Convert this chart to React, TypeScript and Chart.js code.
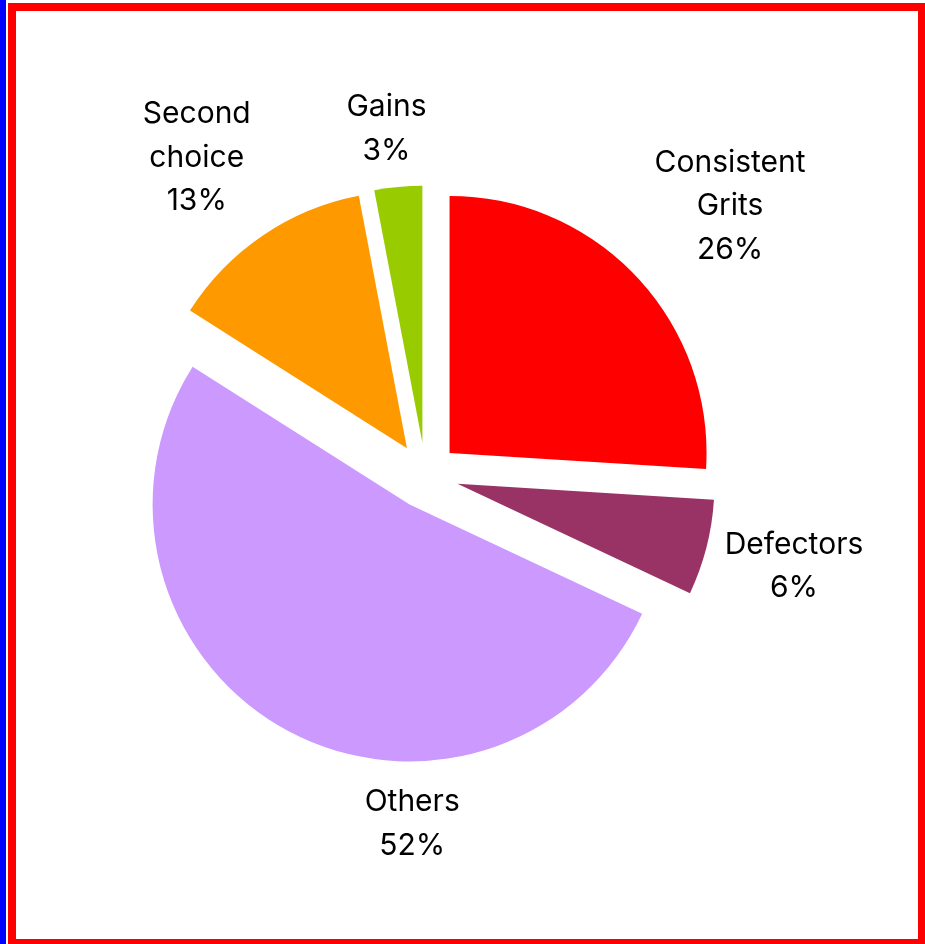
import React, { useEffect, useRef } from "react";
import { Chart, registerables } from "chart.js";

Chart.register(...registerables);

// ---- data ----
const categories = ["Consistent Grits", "Defectors", "Others", "Second choice", "Gains"];
const labelLines = [["Consistent", "Grits"], ["Defectors"], ["Others"], ["Second", "choice"], ["Gains"]];
const shares = [26, 6, 52, 13, 3];
const colors = ["#FF0000", "#993366", "#CC99FF", "#FF9900", "#99CC00"];

// ---- label layout (polar, relative to pie centre: degrees clockwise from top, radius multiples) ----
const labelAngles = [48.35, 103.6, 182.2, 324.4, 353.6];
const labelDistances = [1.586, 1.475, 1.35, 1.529, 1.363];

const EXPLODE = 33;
const FONT = "30px Inter";
const LINE_H = 43.5;
const CAP = 21.5;

const explodedPie = {
  id: "explodedPie",
  beforeDatasetDraw(chart: any, args: any) {
    const ctx = chart.ctx;
    const meta = args.meta;
    ctx.save();
    meta.data.forEach((arc: any) => {
      const { x, y, startAngle, endAngle, outerRadius } = arc;
      const mid = (startAngle + endAngle) / 2;
      const cx = x + Math.cos(mid) * EXPLODE;
      const cy = y + Math.sin(mid) * EXPLODE;
      ctx.beginPath();
      ctx.moveTo(cx, cy);
      ctx.arc(cx, cy, outerRadius, startAngle, endAngle);
      ctx.closePath();
      ctx.fillStyle = arc.options.backgroundColor;
      ctx.fill();
    });
    ctx.restore();
    return false;
  },
  afterDatasetsDraw(chart: any) {
    const ctx = chart.ctx;
    const meta = chart.getDatasetMeta(0);
    const data = chart.data.datasets[0].data as number[];
    const total = data.reduce((a, b) => a + b, 0);
    ctx.save();
    ctx.font = FONT;
    ctx.fillStyle = "#000000";
    ctx.textAlign = "center";
    ctx.textBaseline = "alphabetic";
    meta.data.forEach((arc: any, i: number) => {
      const { x, y, outerRadius } = arc;
      const a = (labelAngles[i] * Math.PI) / 180;
      const d = labelDistances[i] * outerRadius;
      const bx = x + Math.sin(a) * d;
      const by = y - Math.cos(a) * d;
      const lines = [...labelLines[i], Math.round((data[i] / total) * 100) + "%"];
      const n = lines.length;
      const firstBase = by - ((n - 1) * LINE_H) / 2 + CAP / 2;
      lines.forEach((t, k) => ctx.fillText(t, bx, firstBase + k * LINE_H));
    });
    ctx.restore();
  },
};

export default function App() {
  const ref = useRef<HTMLCanvasElement>(null);
  useEffect(() => {
    if (!ref.current) return;
    const chart = new Chart(ref.current, {
      type: "pie",
      data: {
        labels: categories,
        datasets: [{ data: shares, backgroundColor: colors, borderWidth: 0 }],
      },
      options: {
        animation: false,
        responsive: false,
        radius: 257,
        layout: { padding: { left: 0, right: 74, top: 7, bottom: 0 } },
        plugins: { legend: { display: false }, tooltip: { enabled: false } },
        events: [],
      } as any,
      plugins: [explodedPie],
    });
    return () => chart.destroy();
  }, []);

  return (
    <div style={{ position: "fixed", left: 0, top: 0, width: 925, height: 944, overflow: "hidden", background: "#ffffff" }}>
      <canvas ref={ref} width={925} height={944} style={{ position: "absolute", left: 0, top: 0 }} />
      <div style={{ position: "absolute", left: 0, top: 0, width: 6, height: 944, background: "#0000FF" }} />
      <div
        style={{
          position: "absolute",
          left: 8,
          top: 3,
          width: 918,
          height: 944,
          border: "8px solid #FF0000",
          boxSizing: "border-box",
        }}
      />
    </div>
  );
}
